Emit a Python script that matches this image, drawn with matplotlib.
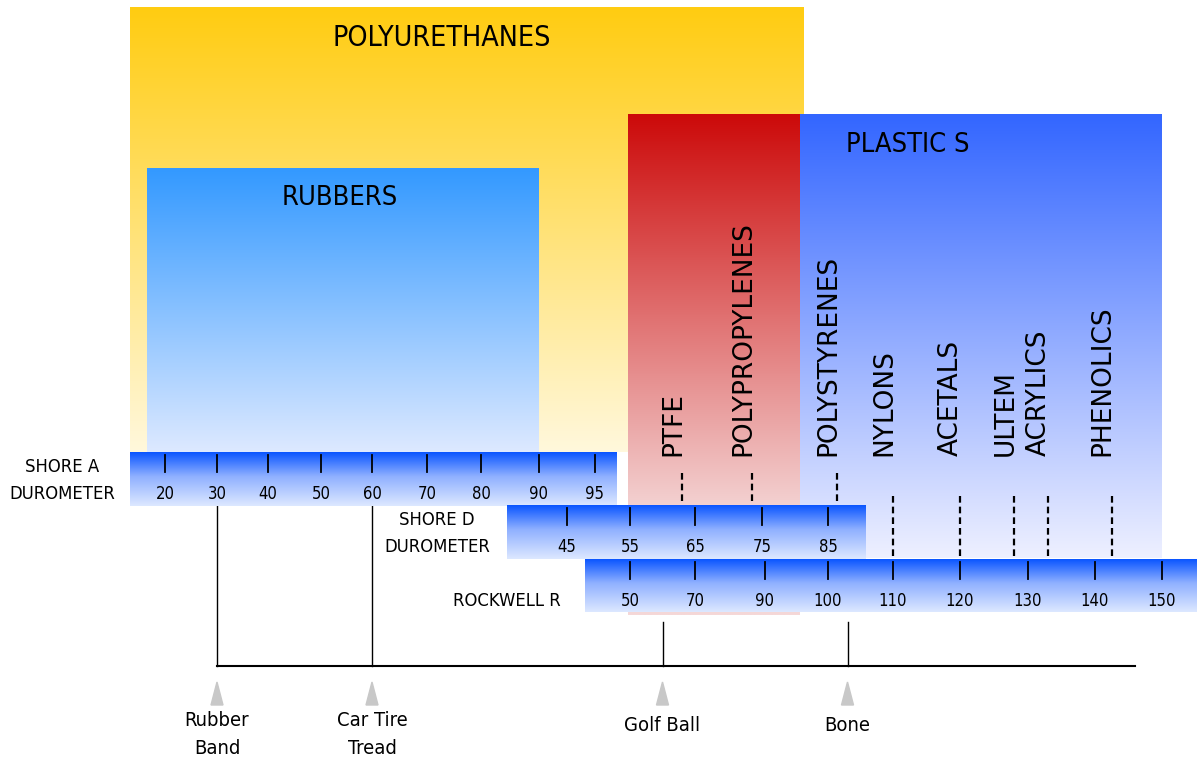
import matplotlib
matplotlib.use('Agg')
import matplotlib.pyplot as plt
import matplotlib.colors as mcolors
from matplotlib.patches import Polygon
import numpy as np

# scale values
shoreATicks = [20, 30, 40, 50, 60, 70, 80, 90, 95]
shoreDTicks = [45, 55, 65, 75, 85]
rockwellTicks = [50, 70, 90, 100, 110, 120, 130, 140, 150]

# materials and where they sit on the scales
materials = ['PTFE', 'POLYPROPYLENES', 'POLYSTYRENES', 'NYLONS', 'ACETALS',
             'ULTEM', 'ACRYLICS', 'PHENOLICS']
materialScale = ['D', 'D', 'D', 'R', 'R', 'R', 'R', 'R']
materialHardness = [63, 73.5, 86.4, 110, 120, 128, 133, 142.5]

# everyday objects
objects = ['Rubber\nBand', 'Car Tire\nTread', 'Golf Ball', 'Bone']
objectScale = ['A', 'A', 'R', 'R']
objectHardness = [30, 60, 60, 103]

# layout (pixel positions of the scale ticks)
shoreAPos = [165, 217, 268, 321, 372, 427, 481, 539, 595]
shoreDPos = [567, 630, 695, 762, 828]
rockwellPos = [630, 695, 765, 828, 893, 960, 1028, 1095, 1162]

NARROW = dict(family='DejaVu Sans', fontstretch='condensed')
BAR = [(0, '#0a55ff'), (0.45, '#8fb0ff'), (1, '#dde8ff')]


def toX(ticks, pos, v):
    if v > ticks[-1]:
        slope = (pos[-1] - pos[-2]) / (ticks[-1] - ticks[-2])
        return pos[-1] + (v - ticks[-1]) * slope
    return float(np.interp(v, ticks, pos))


def scaleFor(name):
    if name == 'A':
        return shoreATicks, shoreAPos
    if name == 'D':
        return shoreDTicks, shoreDPos
    return rockwellTicks, rockwellPos


def gradientBox(ax, x0, x1, y0, y1, stops, z):
    t = np.linspace(0, 1, 256)
    fr = [s[0] for s in stops]
    cols = np.array([mcolors.to_rgb(s[1]) for s in stops])
    rgb = np.stack([np.interp(t, fr, cols[:, k]) for k in range(3)], axis=1)
    ax.imshow(rgb[:, None, :], extent=(x0, x1, y1, y0), origin='upper',
              aspect='auto', zorder=z, interpolation='bilinear')


def drawScale(ax, ticks, pos, x0, x1, y0, y1, z, nameLines, nameX):
    gradientBox(ax, x0, x1, y0, y1, BAR, z)
    for v, x in zip(ticks, pos):
        ax.plot([x, x], [y0 + 3, y0 + 20], color='black', lw=1.3, zorder=z + 0.1)
        ax.text(x, y0 + 42, str(v), ha='center', va='center', fontsize=12,
                zorder=z + 0.1, **NARROW)
    for i, line in enumerate(nameLines):
        ax.text(nameX, y0 + 15 + 27 * i, line, ha='center', va='center',
                fontsize=13.2, zorder=z + 0.1, **NARROW)


fig = plt.figure(figsize=(11.97, 7.61), dpi=100)
ax = fig.add_axes([0, 0, 1, 1])
ax.axis('off')

# material family regions
gradientBox(ax, 130, 804, 7, 452, [(0, '#ffcc11'), (1, '#fff8dc')], 1)
gradientBox(ax, 147, 539, 168, 452, [(0, '#3399ff'), (1, '#dde9ff')], 2)
gradientBox(ax, 628, 800, 114, 615, [(0, '#cc0a0a'), (0.78, '#f3d0d0'), (1, '#f5d8d8')], 2)
gradientBox(ax, 800, 1162, 114, 558, [(0, '#3366ff'), (1, '#eef0ff')], 2)
ax.text(442, 38, 'POLYURETHANES', ha='center', va='center', fontsize=20.5,
        zorder=3, **NARROW)
ax.text(340, 198, 'RUBBERS', ha='center', va='center', fontsize=19.5,
        zorder=3, **NARROW)
ax.text(908, 145, 'PLASTIC S', ha='center', va='center', fontsize=19.5,
        zorder=3, **NARROW)

# scales
drawScale(ax, shoreATicks, shoreAPos, 130, 617, 452, 506, 5,
          ['SHORE A', 'DUROMETER'], 62)
drawScale(ax, shoreDTicks, shoreDPos, 507, 866, 505, 559, 6,
          ['SHORE D', 'DUROMETER'], 437)
drawScale(ax, rockwellTicks, rockwellPos, 585, 1197, 559, 612, 7,
          ['', 'ROCKWELL R'], 507)

# material markers
for name, sc, h in zip(materials, materialScale, materialHardness):
    ticks, pos = scaleFor(sc)
    x = toX(ticks, pos, h)
    if sc == 'D':
        y0, y1 = 473, 505
    else:
        y0, y1 = 496, 559
    ax.plot([x, x], [y0, y1], color='black', lw=1.6, dashes=(3, 1.8), zorder=4)
    ax.text(x - 9, 456, name, rotation=90, ha='center', va='bottom',
            fontsize=19, zorder=4)

# everyday objects
xs = []
for name, sc, h in zip(objects, objectScale, objectHardness):
    ticks, pos = scaleFor(sc)
    x = toX(ticks, pos, h)
    xs.append(x)
    top = 506 if sc == 'A' else 622
    ax.plot([x, x], [top, 666], color='black', lw=1, zorder=4)
    ax.add_patch(Polygon([[x - 6, 705], [x + 6, 705], [x, 682]], closed=True,
                         color='#c8c8c8', zorder=4))
    ax.text(x, 711 if '\n' in name else 716, name, ha='center', va='top',
            fontsize=14.5, linespacing=1.6, zorder=4, **NARROW)
ax.plot([xs[0], 1135], [666, 666], color='black', lw=1.5, zorder=4)

ax.set_xlim(0, 1197)
ax.set_ylim(761, 0)
fig.savefig('out.png', dpi=100)
